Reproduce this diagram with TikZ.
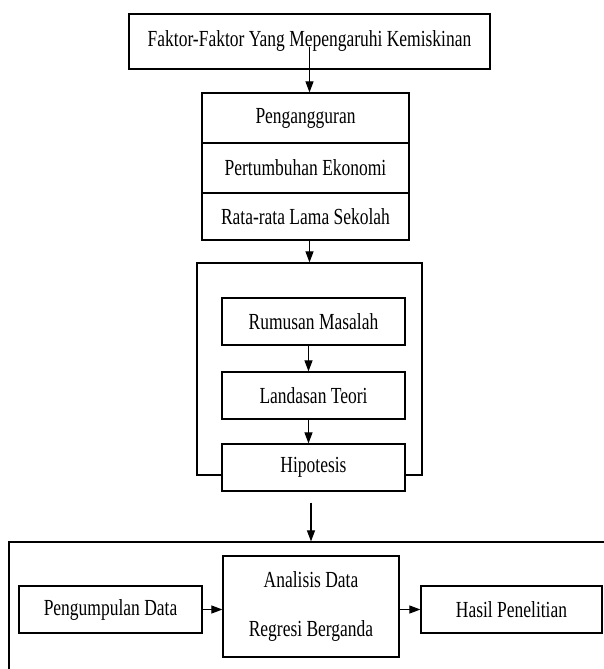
\documentclass[tikz,border=0pt]{standalone}
\usepackage{fontspec}
\setmainfont{Liberation Serif}[FakeStretch=0.76]
\usetikzlibrary{arrows.meta}
\begin{document}
\begin{tikzpicture}[x=1pt,y=-1pt,
  box/.style={draw,line width=1.2pt,rectangle,inner sep=0pt,fill=white,
    font=\fontsize{23}{27}\selectfont,align=center},
  frame/.style={draw,line width=1.2pt,rectangle,inner sep=0pt},
  arr/.style={line width=1.1pt,-{Triangle[length=11pt,width=8pt]}}]
\clip (0,0) rectangle (604,669);
\fill[white] (0,0) rectangle (604,669);
% top
\node[box,minimum width=361pt,minimum height=55pt] (top) at (309.5,41.5) {Faktor-Faktor Yang Mepengaruhi Kemiskinan};
% stack
\node[box,minimum width=207pt,minimum height=50pt] (c1) at (305.5,118) {Pengangguran};
\node[box,minimum width=207pt,minimum height=50pt] (c2) at (305.5,168) {Pertumbuhan Ekonomi};
\node[box,minimum width=207pt,minimum height=47pt] (c3) at (305.5,216.5) {Rata-rata Lama Sekolah};
\draw[arr] ([yshift=-5.5pt]top.center) -- (top.center |- c1.north);
% frame 2
\node[frame,minimum width=225pt,minimum height=212pt] (f2) at (309.5,369) {};
\draw[arr] (c3.south -| f2.north) -- (f2.north);
\node[box,minimum width=183pt,minimum height=47pt] (rum) at (313.5,321.5) {Rumusan Masalah};
\node[box,minimum width=183pt,minimum height=47pt] (lan) at (313.5,395.5) {Landasan Teori};
\node[box,minimum width=183pt,minimum height=47pt] (hip) at (313.5,467.5) {Hipotesis};
\draw[arr] ([xshift=-5pt]rum.south) -- ([xshift=-5pt]lan.north);
\draw[arr] ([xshift=-5pt]lan.south) -- ([xshift=-5pt]hip.north);
% frame 3
\node[frame,minimum width=631pt,minimum height=178pt] (f3) at (324.5,631) {};
\draw[arr] ([xshift=-2.5pt,yshift=-11pt]hip.south) -- ([xshift=-2.5pt]hip.south |- f3.north);
\node[box,minimum width=183pt,minimum height=47pt] (pen) at (110.5,609.5) {Pengumpulan Data};
\node[box,minimum width=176pt,minimum height=101pt,font=\fontsize{23}{49}\selectfont] (ana) at (311,606.5) {Analisis Data\\Regresi Berganda};
\node[box,minimum width=181pt,minimum height=47pt] (has) at (511.5,609.5) {Hasil Penelitian};
\draw[arr] (pen.east) -- (pen.east -| ana.west);
\draw[arr] (has.west -| ana.east) -- (has.west);
\end{tikzpicture}
\end{document}
